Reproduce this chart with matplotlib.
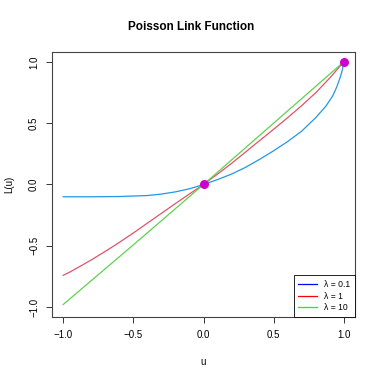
import matplotlib
matplotlib.use("Agg")
import matplotlib.pyplot as plt
from matplotlib.lines import Line2D

plt.rcParams['font.family'] = ['Liberation Sans', 'DejaVu Sans']

# Data
u_blue = [-1.0, -0.8, -0.6, -0.4, -0.3, -0.2, -0.1, 0.0, 0.1, 0.2, 0.3, 0.4, 0.5, 0.6, 0.7, 0.8, 0.87, 0.92, 0.95, 0.975, 0.99, 1.0]
L_blue = [-0.100, -0.100, -0.098, -0.090, -0.078, -0.060, -0.035, 0.0, 0.040, 0.085, 0.140, 0.205, 0.275, 0.350, 0.435, 0.545, 0.635, 0.720, 0.795, 0.875, 0.935, 1.0]

u_red = [-1.0, -0.95, -0.9, -0.8, -0.7, -0.6, -0.5, -0.4, -0.3, -0.2, -0.1, 0.0, 0.1, 0.2, 0.3, 0.4, 0.5, 0.6, 0.7, 0.8, 0.9, 1.0]
L_red = [-0.74, -0.712, -0.68, -0.615, -0.545, -0.472, -0.395, -0.315, -0.235, -0.155, -0.077, 0.0, 0.085, 0.172, 0.265, 0.358, 0.450, 0.545, 0.643, 0.748, 0.868, 1.0]

u_green = [-1.0, -0.5, 0.0, 0.5, 1.0]
L_green = [-0.978, -0.492, 0.0, 0.5, 1.0]

pts_u = [0.0, 1.0]
pts_L = [0.0, 1.0]

legend_labels = ["λ = 0.1", "λ = 1", "λ = 10"]
ticks = [-1.0, -0.5, 0.0, 0.5, 1.0]
tick_labels = ["\u22121.0", "\u22120.5", "0.0", "0.5", "1.0"]

fig = plt.figure(figsize=(3.82, 3.82), dpi=100)
ax = fig.add_axes([52/382, 1-317/382, (355-52)/382, (317-52)/382])

ax.plot(u_blue, L_blue, color="#2297E6", lw=0.9)
ax.plot(u_red, L_red, color="#DF536B", lw=0.9)
ax.plot(u_green, L_green, color="#61D04F", lw=0.9)
ax.scatter(pts_u, pts_L, s=42, color="#CD00CD", zorder=5, linewidths=0)

ax.set_xlim(-1.08, 1.08)
ax.set_ylim(-1.08, 1.08)
ax.set_xticks(ticks)
ax.set_xticklabels(tick_labels)
ax.set_yticks(ticks)
ax.set_yticklabels(tick_labels, rotation=90, va='center')
ax.tick_params(direction='out', length=4.3, width=0.7, labelsize=7.0, pad=5, color='#333333')
for s in ax.spines.values():
    s.set_linewidth(0.8)
    s.set_color('#444444')

ax.set_xlabel("u", fontsize=7.0, labelpad=12)
ax.set_ylabel("L(u)", fontsize=7.0, labelpad=11)
fig.text(0.5, 1-27/382, "Poisson Link Function", ha='center', va='center', fontsize=8.5, fontweight='bold')

handles = [Line2D([], [], color=c, lw=0.9) for c in ["blue", "red", "#00FF00"]]
leg = ax.legend(handles, legend_labels, loc='lower right', borderaxespad=0, fontsize=6.2,
                fancybox=False, edgecolor='black', framealpha=1, handlelength=2.2,
                labelspacing=0.3, borderpad=0.55, handletextpad=0.8)
leg.get_frame().set_linewidth(0.6)

fig.savefig("out.png", dpi=100)
